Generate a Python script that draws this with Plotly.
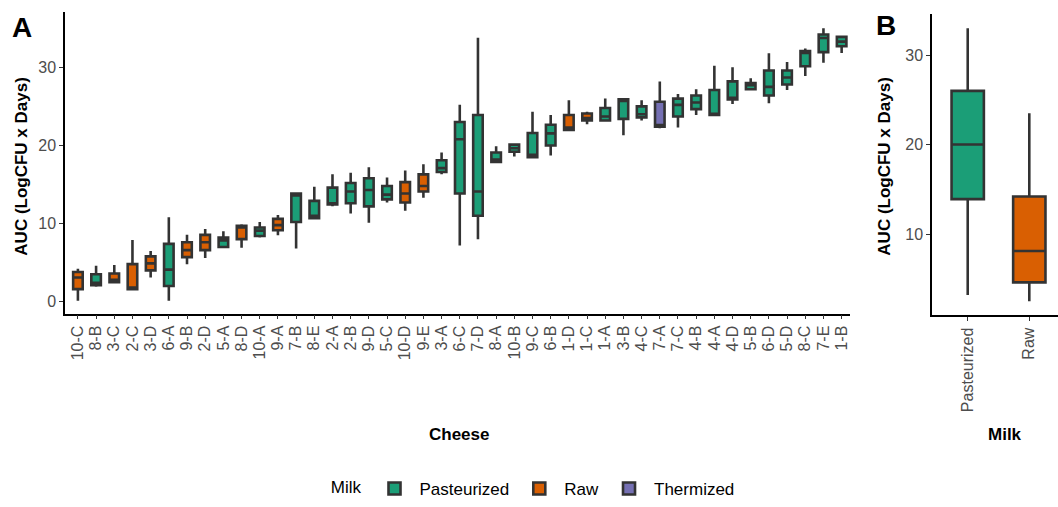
import plotly.graph_objects as go

cheese = ["10-C", "8-B", "3-C", "2-C", "3-D", "6-A", "9-B", "2-D", "5-A", "8-D",
          "10-A", "9-A", "7-B", "8-E", "2-A", "2-B", "9-D", "5-C", "10-D", "9-E",
          "3-A", "6-C", "7-D", "8-A", "10-B", "9-C", "6-B", "1-D", "1-C", "1-A",
          "3-B", "4-C", "7-A", "7-C", "4-B", "4-A", "4-D", "5-B", "6-D", "5-D",
          "8-C", "7-E", "1-B"]
milk = ["Raw", "Pasteurized", "Raw", "Raw", "Raw", "Pasteurized", "Raw", "Raw", "Pasteurized", "Raw",
        "Pasteurized", "Raw", "Pasteurized", "Pasteurized", "Pasteurized", "Pasteurized", "Pasteurized", "Pasteurized", "Raw", "Raw",
        "Pasteurized", "Pasteurized", "Pasteurized", "Pasteurized", "Pasteurized", "Pasteurized", "Pasteurized", "Raw", "Raw", "Pasteurized",
        "Pasteurized", "Pasteurized", "Thermized", "Pasteurized", "Pasteurized", "Pasteurized", "Pasteurized", "Pasteurized", "Pasteurized", "Pasteurized",
        "Pasteurized", "Pasteurized", "Pasteurized"]
lo = [0.1, 1.9, 2.4, 1.5, 3.1, 0.1, 4.8, 5.6, 6.9, 6.9,
      8.2, 8.5, 6.8, 10.7, 12.2, 11.3, 10.1, 12.7, 11.65, 13.3,
      16.3, 7.2, 8.0, 17.9, 18.6, 18.5, 18.7, 21.9, 22.7, 23.1,
      21.3, 23.2, 22.2, 22.3, 23.9, 23.9, 25.3, 27.2, 25.4, 27.1,
      28.9, 30.6, 31.85]
q1 = [1.6, 2.1, 2.5, 1.6, 4.0, 2.0, 5.7, 6.6, 7.0, 8.0,
      8.4, 9.15, 10.2, 10.7, 12.45, 12.6, 12.2, 13.1, 12.7, 14.1,
      16.6, 13.85, 11.0, 17.9, 19.2, 18.5, 20.0, 22.0, 23.2, 23.2,
      23.4, 23.6, 22.4, 23.7, 24.65, 23.9, 25.9, 27.2, 26.4, 27.8,
      30.15, 31.95, 32.7]
med = [3.1, 2.4, 2.8, 1.8, 4.9, 4.1, 6.6, 7.6, 7.85, 9.5,
       9.1, 9.8, 13.6, 11.0, 12.6, 14.1, 14.3, 13.7, 13.85, 14.8,
       17.1, 20.8, 14.1, 18.2, 19.65, 18.8, 21.55, 22.3, 23.5, 23.7,
       25.7, 24.0, 22.6, 25.2, 25.5, 24.05, 26.1, 27.7, 27.5, 28.7,
       31.85, 33.75, 33.3]
q3 = [3.8, 3.5, 3.6, 4.8, 5.8, 7.4, 7.6, 8.55, 8.2, 9.7,
      9.5, 10.6, 13.85, 12.9, 14.6, 15.2, 15.8, 14.8, 15.3, 16.3,
      18.1, 23.0, 23.9, 19.1, 20.1, 21.6, 22.65, 23.9, 24.1, 24.8,
      25.9, 25.0, 25.6, 26.0, 26.4, 27.1, 28.2, 28.0, 29.6, 29.6,
      32.1, 34.2, 33.9]
hi = [4.2, 4.6, 4.7, 7.9, 6.5, 10.8, 8.55, 9.3, 9.0, 9.9,
      10.2, 11.1, 14.0, 14.7, 16.3, 16.5, 17.2, 15.9, 16.8, 17.6,
      19.1, 25.2, 33.8, 19.9, 20.2, 24.3, 23.9, 25.8, 24.3, 26.0,
      26.0, 25.8, 28.2, 26.6, 27.2, 30.2, 30.0, 28.6, 31.8, 30.7,
      32.4, 35.0, 34.0]

milk_types = ["Pasteurized", "Raw", "Thermized"]
milk_colors = {"Pasteurized": "#1B9E77", "Raw": "#D95F02", "Thermized": "#7570B3"}

# Panel B summary (by milk)
b_milk = ["Pasteurized", "Raw"]
b_lo = [3.2, 2.5]
b_q1 = [13.9, 4.6]
b_med = [20.0, 8.1]
b_q3 = [26.0, 14.2]
b_hi = [33.0, 23.5]

FONT = "Liberation Sans, Arial, sans-serif"
LINE = "#333333"
TICKC = "#4D4D4D"

fig = go.Figure()

for m in milk_types:
    idx = [i for i, v in enumerate(milk) if v == m]
    fig.add_trace(go.Box(
        x=[cheese[i] for i in idx],
        lowerfence=[lo[i] for i in idx],
        q1=[q1[i] for i in idx],
        median=[med[i] for i in idx],
        q3=[q3[i] for i in idx],
        upperfence=[hi[i] for i in idx],
        name=m, legendgroup=m,
        fillcolor=milk_colors[m],
        line=dict(color=LINE, width=2.6),
        whiskerwidth=0,
        boxpoints=False,
        xaxis="x", yaxis="y",
    ))

for j, m in enumerate(b_milk):
    fig.add_trace(go.Box(
        x=[m],
        lowerfence=[b_lo[j]], q1=[b_q1[j]], median=[b_med[j]],
        q3=[b_q3[j]], upperfence=[b_hi[j]],
        name=m, legendgroup=m, showlegend=False,
        fillcolor=milk_colors[m],
        line=dict(color=LINE, width=2.6),
        whiskerwidth=0,
        boxpoints=False,
        xaxis="x2", yaxis="y2",
    ))

H = 507.0
W = 1058.0

axis_common = dict(
    showline=True, linecolor="black", linewidth=1.5,
    ticks="outside", ticklen=4, tickcolor=LINE, tickwidth=1.2,
    showgrid=False, zeroline=False,
    tickfont=dict(family=FONT, size=16, color=TICKC),
)


def ann(text, x, y, size=17, angle=0):
    return dict(text=text, x=x / W, y=1 - y / H, xref="paper", yref="paper",
                xanchor="center", yanchor="middle", showarrow=False, textangle=angle,
                font=dict(family=FONT, size=size, color="black"))


fig.update_layout(
    width=1058, height=507,
    margin=dict(l=0, r=0, t=0, b=0),
    paper_bgcolor="white", plot_bgcolor="white",
    boxmode="overlay", boxgap=0.25,
    font=dict(family=FONT, color="black"),
    xaxis=dict(domain=[65 / W, 850 / W], anchor="y",
               type="category", categoryorder="array", categoryarray=cheese,
               tickmode="array", tickvals=cheese, ticktext=cheese,
               range=[-0.71, 42.46], tickangle=-90, automargin=False, **axis_common),
    yaxis=dict(domain=[1 - 316 / H, 1 - 12 / H], anchor="x",
               range=[-1.52, 37.1], tickvals=[0, 10, 20, 30], automargin=False, **axis_common),
    xaxis2=dict(domain=[932 / W, 1.0], anchor="y2",
                type="category", categoryorder="array", categoryarray=b_milk,
                tickmode="array", tickvals=b_milk, ticktext=b_milk,
                range=[-0.58, 1.466], tickangle=-90, automargin=False, **axis_common),
    yaxis2=dict(domain=[1 - 318 / H, 1 - 14 / H], anchor="x2",
                range=[0.9, 34.6], tickvals=[10, 20, 30], automargin=False, **axis_common),
    legend=dict(orientation="h", x=0.505, xanchor="center", y=1 - 493 / H, yanchor="middle",
                title=dict(text="Milk", font=dict(family=FONT, size=17, color="black")),
                font=dict(family=FONT, size=17, color="black"),
                itemwidth=40),
    showlegend=True,
    annotations=[
        ann("<b>A</b>", 22, 28, size=28),
        ann("<b>B</b>", 886, 26, size=28),
        ann("<b>AUC (LogCFU x Days)</b>", 22, 168, angle=-90),
        ann("<b>AUC (LogCFU x Days)</b>", 885, 168, angle=-90),
        ann("<b>Cheese</b>", 459, 438),
        ann("<b>Milk</b>", 1005, 438),
    ],
)

fig.write_html("out.html")
